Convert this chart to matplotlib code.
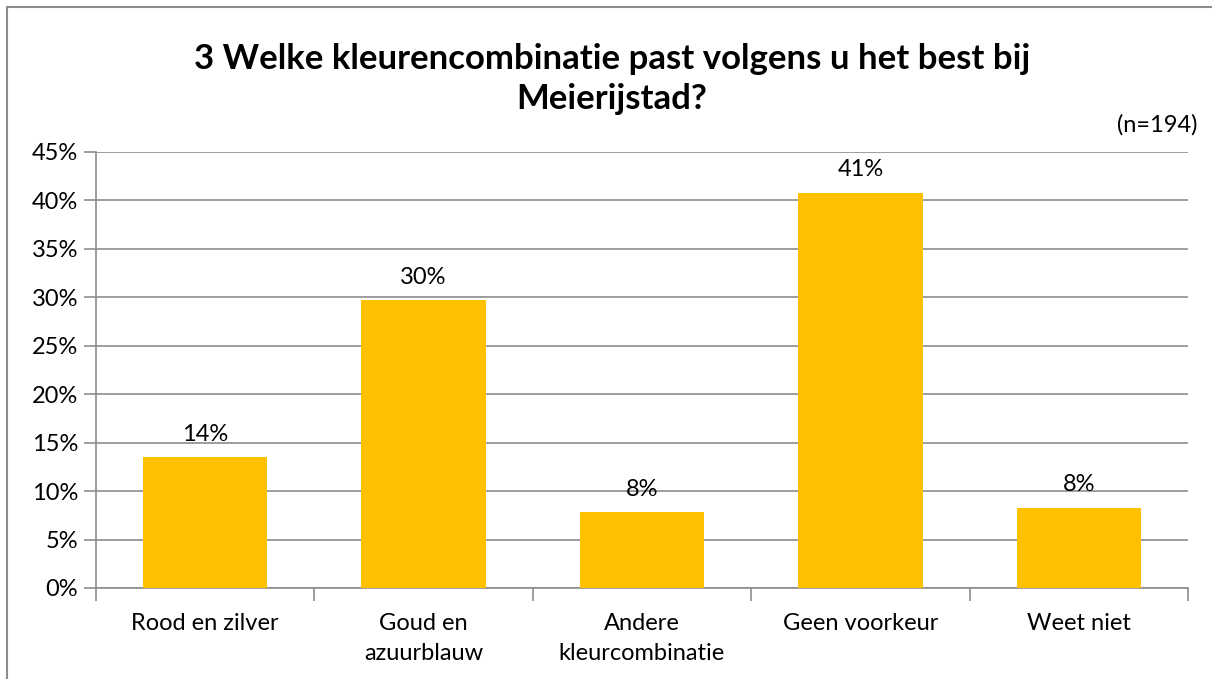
import numpy as np
import matplotlib.pyplot as plt
from matplotlib.patches import Rectangle

categories = ["Rood en zilver", "Goud en\nazuurblauw", "Andere\nkleurcombinatie",
              "Geen voorkeur", "Weet niet"]
values = [13.5, 29.7, 7.8, 40.8, 8.3]
labels = ["14%", "30%", "8%", "41%", "8%"]
yticks = [0, 5, 10, 15, 20, 25, 30, 35, 40, 45]

plt.rcParams['font.family'] = ['Lato', 'DejaVu Sans']

fig = plt.figure(figsize=(12.12, 6.79), dpi=100)
ax = fig.add_axes([96 / 1212, 1 - 588 / 679, (1188 - 96) / 1212, (588 - 152) / 679])

x = np.arange(len(categories))
ax.bar(x, values, width=0.57, color="#FFC000", zorder=3)

for xi, v, lab in zip(x, values, labels):
    ax.annotate(lab, (xi, v), xytext=(0, 9), textcoords="offset points",
                ha="center", va="bottom", fontsize=17, color="#000000")

ax.set_xlim(-0.5, len(categories) - 0.5)
ax.set_ylim(0, 45)
ax.set_yticks(yticks)
ax.set_yticklabels([f"{t}%" for t in yticks], fontsize=17)
ax.yaxis.grid(True, color="#8C8C8C", linewidth=1.2, zorder=0)

# category labels at centres, tick marks at the boundaries
ax.set_xticks(x)
ax.set_xticklabels(categories, fontsize=17, linespacing=1.55, va="top")
ax.tick_params(axis="x", length=0, pad=18)
ax.set_xticks(np.arange(-0.5, len(categories)), minor=True)
ax.tick_params(axis="x", which="minor", length=9, color="#8C8C8C", width=1.2)
ax.tick_params(axis="y", length=9, color="#8C8C8C", width=1.2, pad=4)

for side in ["top", "right"]:
    ax.spines[side].set_visible(False)
for side in ["left", "bottom"]:
    ax.spines[side].set_color("#8C8C8C")
    ax.spines[side].set_linewidth(1.2)

fig.text(0.505, 1 - 79 / 679, "3 Welke kleurencombinatie past volgens u het best bij\nMeierijstad?",
         ha="center", va="center", fontsize=25, fontweight="bold", linespacing=1.3)
fig.text(1197 / 1212, 1 - 125 / 679, "(n=194)", ha="right", va="center", fontsize=17)

fig.patches.append(Rectangle((7 / 1212, -0.05), 1.2, 1 - 7 / 679 + 0.05, transform=fig.transFigure,
                             fill=False, edgecolor="#8C8C8C", linewidth=1.5))

fig.savefig("out.png", dpi=100)
